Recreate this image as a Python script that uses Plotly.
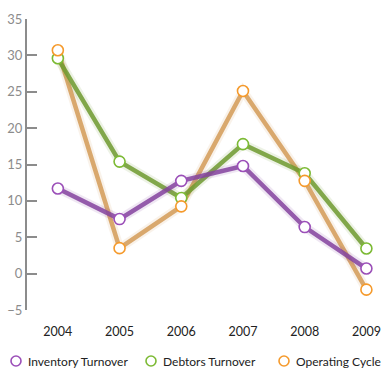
import plotly.graph_objects as go

years = ["2004", "2005", "2006", "2007", "2008", "2009"]
inventory_turnover = [11.7, 7.5, 12.75, 14.8, 6.4, 0.7]
debtors_turnover = [29.6, 15.4, 10.4, 17.8, 13.8, 3.45]
operating_cycle = [30.7, 3.5, 9.25, 25.1, 12.75, -2.2]
y_ticks = [-5, 0, 5, 10, 15, 20, 25, 30, 35]

series = [
    ("Inventory Turnover", inventory_turnover, "#85439f", "#9b4fb8"),
    ("Debtors Turnover", debtors_turnover, "#6f9b30", "#7cba34"),
    ("Operating Cycle", operating_cycle, "#d49c58", "#f59a2c"),
]

xs = list(range(len(years)))
fig = go.Figure()

# soft glow + main line, drawn orange first so purple sits on top
for name, vals, line_c, mark_c in reversed(series):
    fig.add_trace(go.Scatter(x=xs, y=vals, mode="lines", showlegend=False,
                             hoverinfo="skip", opacity=0.12,
                             line=dict(color=line_c, width=9)))
    fig.add_trace(go.Scatter(x=xs, y=vals, mode="lines", showlegend=False,
                             hoverinfo="skip", opacity=0.85,
                             line=dict(color=line_c, width=4.5)))

# hollow point markers
for name, vals, line_c, mark_c in series:
    fig.add_trace(go.Scatter(x=xs, y=vals, mode="markers", name=name,
                             cliponaxis=False, showlegend=False,
                             marker=dict(symbol="circle", size=11, color="white",
                                         line=dict(color=mark_c, width=1.6))))

# legend row along the bottom: hollow circle + label per series
plot_left, plot_w = 27, 361
plot_bottom, plot_h = 310, 291
legend_y = (plot_bottom - 361) / plot_h
legend_px = [16, 151, 284]
shapes, annotations = [], []
for px, (name, vals, line_c, mark_c) in zip(legend_px, series):
    cx = (px - plot_left) / plot_w
    shapes.append(dict(type="circle", xref="paper", yref="paper",
                       xsizemode="pixel", ysizemode="pixel",
                       xanchor=cx, yanchor=legend_y, x0=-5, x1=5, y0=-5, y1=5,
                       line=dict(color=mark_c, width=1.6), fillcolor="white"))
    annotations.append(dict(text=name, xref="paper", yref="paper",
                            x=cx, y=legend_y, xshift=10, xanchor="left", yanchor="middle",
                            showarrow=False, font=dict(size=12, color="#222")))

fig.update_layout(
    width=388, height=368,
    margin=dict(l=27, r=0, t=19, b=58),
    paper_bgcolor="white", plot_bgcolor="white",
    font=dict(family="Lato, Open Sans, sans-serif", size=12, color="#222"),
    showlegend=False,
    shapes=shapes, annotations=annotations,
)
fig.update_xaxes(range=[-0.5, 5.35], tickmode="array", tickvals=xs, ticktext=years,
                 showgrid=False, zeroline=False, showline=False, ticks="",
                 ticklabelstandoff=12, tickfont=dict(size=12.5, color="#222"),
                 fixedrange=True)
fig.update_yaxes(range=[-5, 35], tickmode="array", tickvals=y_ticks,
                 showgrid=False, zeroline=False, showline=True, linecolor="#8c8c8c",
                 linewidth=2, ticks="inside", ticklen=10, tickwidth=2, tickcolor="#8c8c8c",
                 tickfont=dict(size=13, color="#8c8c8c"), fixedrange=True)

fig.write_html("out.html")
